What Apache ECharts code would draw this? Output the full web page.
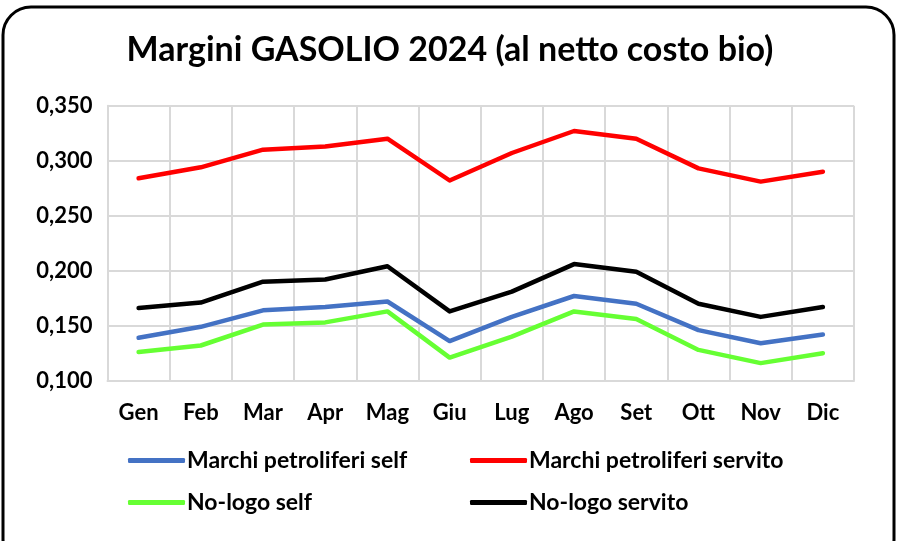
<!DOCTYPE html>
<html>
<head>
<meta charset="utf-8">
<script src="https://cdn.jsdelivr.net/npm/echarts@6/dist/echarts.min.js"></script>
<style>html,body{margin:0;padding:0;background:#fff;}#c{width:900px;height:541px;}</style>
</head>
<body>
<div id="c"></div>
<script>
var categories = ['Gen','Feb','Mar','Apr','Mag','Giu','Lug','Ago','Set','Ott','Nov','Dic'];
var marchiSelf    = [0.139,0.149,0.164,0.167,0.172,0.136,0.158,0.177,0.170,0.146,0.134,0.142];
var marchiServito = [0.284,0.294,0.310,0.313,0.320,0.282,0.307,0.327,0.320,0.293,0.281,0.290];
var noLogoSelf    = [0.126,0.132,0.151,0.153,0.163,0.121,0.140,0.163,0.156,0.128,0.116,0.125];
var noLogoServito = [0.166,0.171,0.190,0.192,0.204,0.163,0.181,0.206,0.199,0.170,0.158,0.167];
var yTicks = { min: 0.1, max: 0.35, interval: 0.05 };

var FONT = 'Lato';
var chart = echarts.init(document.getElementById('c'), null, {renderer:'canvas'});
function mk(name, data, color) {
  return { name: name, type: 'line', data: data, symbol: 'none',
    lineStyle: { color: color, width: 4.5, cap: 'round', join: 'round' },
    itemStyle: { color: color } };
}
var legendText = { fontFamily: FONT, fontWeight: 'bold', fontSize: 23, color: '#000', padding: [0,0,0,-3] };
chart.setOption({
  animation: false,
  backgroundColor: '#fff',
  title: {
    text: 'Margini GASOLIO 2024 (al netto costo bio)',
    left: 'center', top: 28,
    textStyle: { fontFamily: FONT, fontWeight: 'bold', fontSize: 34, color: '#000' }
  },
  graphic: [{
    type: 'rect', shape: { x: 3, y: 7, width: 891, height: 560, r: 28 },
    style: { fill: 'none', stroke: '#000', lineWidth: 3 }, z: 100
  }],
  grid: { left: 107.5, right: 46, top: 105.7, bottom: 160.3, containLabel: false },
  xAxis: {
    type: 'category', data: categories, boundaryGap: true,
    axisLine: { show: true, lineStyle: { color: '#d9d9d9', width: 2 } },
    axisTick: { show: false },
    splitLine: { show: true, lineStyle: { color: '#d9d9d9', width: 2 } },
    axisLabel: { fontFamily: FONT, fontWeight: 'bold', fontSize: 22, color: '#000', margin: 21 }
  },
  yAxis: {
    type: 'value', min: yTicks.min, max: yTicks.max, interval: yTicks.interval,
    axisLine: { show: true, lineStyle: { color: '#d9d9d9', width: 2 } },
    axisTick: { show: false },
    splitLine: { show: true, lineStyle: { color: '#d9d9d9', width: 2 } },
    axisLabel: { fontFamily: FONT, fontWeight: 'bold', fontSize: 22, color: '#000', margin: 15,
      formatter: function (v) { return v.toFixed(3).replace('.', ','); } }
  },
  legend: [{
    left: 123, top: 444, orient: 'vertical', itemGap: 19,
    itemWidth: 57, itemHeight: 5, icon: 'roundRect',
    data: ['Marchi petroliferi self', 'No-logo self'],
    textStyle: legendText
  }, {
    left: 465, top: 444, orient: 'vertical', itemGap: 19,
    itemWidth: 57, itemHeight: 5, icon: 'roundRect',
    data: ['Marchi petroliferi servito', 'No-logo servito'],
    textStyle: legendText
  }],
  series: [
    mk('Marchi petroliferi self', marchiSelf, '#4472c4'),
    mk('Marchi petroliferi servito', marchiServito, '#ff0000'),
    mk('No-logo self', noLogoSelf, '#66ff33'),
    mk('No-logo servito', noLogoServito, '#000000')
  ]
});
</script>
</body>
</html>
